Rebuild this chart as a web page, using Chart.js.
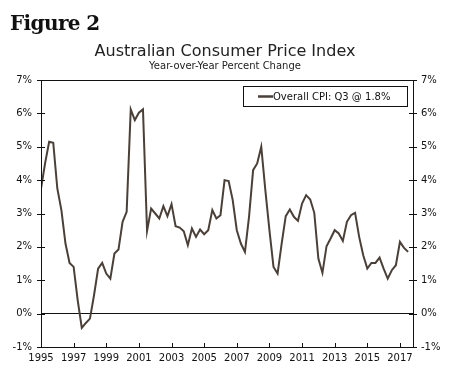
<!DOCTYPE html>
<html>
<head>
<meta charset="utf-8">
<script src="https://cdn.jsdelivr.net/npm/chart.js@4/dist/chart.umd.min.js"></script>
<style>
  body { margin: 0; background: #fff; }
  #wrap { position: relative; width: 450px; height: 368px; }
  #fig {
    position: absolute; left: 10px; top: 13px;
    font: bold 20px "DejaVu Serif", serif; line-height: 20px;
    letter-spacing: -0.6px; color: #111;
  }
  canvas { display: block; }
</style>
</head>
<body>
<div id="wrap">
  <div id="fig">Figure 2</div>
  <canvas id="cpiChart" width="450" height="368"></canvas>
</div>
<script>
// quarterly, 1995 Q1 .. 2017 Q3
const startYear = 1995;
const cpiYoY = [
  3.75, 4.5, 5.15, 5.12,   3.75, 3.1, 2.1, 1.52,    1.4, 0.4, -0.43, -0.28,
  -0.15, 0.55, 1.35, 1.52, 1.2, 1.05, 1.8, 1.92,    2.75, 3.05, 6.12, 5.8,
  6.02, 6.12, 2.48, 3.15,  3.0, 2.85, 3.22, 2.92,   3.28, 2.62, 2.58, 2.47,
  2.05, 2.55, 2.3, 2.52,   2.38, 2.5, 3.1, 2.85,    2.95, 4.0, 3.97, 3.4,
  2.5, 2.1, 1.85, 2.9,     4.3, 4.5, 5.0, 3.7,      2.5, 1.4, 1.2, 2.1,
  2.92, 3.12, 2.9, 2.78,   3.3, 3.55, 3.42, 3.02,   1.65, 1.22, 2.02, 2.25,
  2.5, 2.4, 2.18, 2.75,    2.95, 3.02, 2.3, 1.75,   1.35, 1.52, 1.52, 1.68,
  1.35, 1.05, 1.3, 1.45,   2.15, 1.97, 1.85
];
const yearTicks = [1995, 1997, 1999, 2001, 2003, 2005, 2007, 2009, 2011, 2013, 2015, 2017];
const pctTicks = [-1, 0, 1, 2, 3, 4, 5, 6, 7];
const seriesLabel = "Overall CPI: Q3 @ 1.8%";

const points = cpiYoY.map((v, i) => ({ x: startYear + i / 4, y: v }));
const lineColor = "#4a4038";
const axisFont = { family: "DejaVu Sans", size: 10 };

// box, ticks and legend drawn on top of the chart area
const frame = {
  id: "frame",
  afterDraw(chart) {
    const { ctx, chartArea: a, scales } = chart;
    ctx.save();
    ctx.strokeStyle = "#111";
    ctx.lineWidth = 1;
    ctx.strokeRect(Math.round(a.left) + 0.5, Math.round(a.top) + 0.5,
      Math.round(a.right - a.left), Math.round(a.bottom - a.top));

    ctx.beginPath();
    pctTicks.forEach(v => {
      const y = Math.round(scales.y.getPixelForValue(v)) + 0.5;
      ctx.moveTo(a.left - 4, y); ctx.lineTo(a.left + 4, y);
      ctx.moveTo(a.right - 4, y); ctx.lineTo(a.right + 4, y);
    });
    yearTicks.forEach(v => {
      const x = Math.round(scales.x.getPixelForValue(v)) + 0.5;
      ctx.moveTo(x, a.bottom - 4); ctx.lineTo(x, a.bottom + 1);
    });
    ctx.stroke();

    // legend
    const lx = 243.5, ly = 86.5, lw = 164, lh = 20;
    ctx.fillStyle = "#fff";
    ctx.fillRect(lx, ly, lw, lh);
    ctx.strokeRect(lx, ly, lw, lh);
    ctx.strokeStyle = lineColor;
    ctx.lineWidth = 2.5;
    ctx.beginPath();
    ctx.moveTo(258, 96.5); ctx.lineTo(273, 96.5);
    ctx.stroke();
    ctx.fillStyle = "#111";
    ctx.font = "10px 'DejaVu Sans'";
    ctx.textBaseline = "middle";
    ctx.fillText(chart.data.datasets[0].label, 273, 97);
    ctx.restore();
  }
};

new Chart(document.getElementById("cpiChart"), {
  type: "line",
  data: {
    datasets: [{
      label: seriesLabel,
      data: points,
      borderColor: lineColor,
      borderWidth: 2,
      pointRadius: 0,
      tension: 0
    }]
  },
  options: {
    responsive: false,
    animation: false,
    layout: { padding: 0 },
    plugins: {
      legend: { display: false },
      tooltip: { enabled: false },
      title: {
        display: true,
        text: "Australian Consumer Price Index",
        color: "#222",
        font: { family: "DejaVu Sans", size: 16, weight: "normal", lineHeight: 1 },
        padding: { top: 44, bottom: 0 }
      },
      subtitle: {
        display: true,
        text: "Year-over-Year Percent Change",
        color: "#222",
        font: { family: "DejaVu Sans", size: 10, lineHeight: 1 },
        padding: { top: 1.3, bottom: 8.7 }
      }
    },
    scales: {
      x: {
        type: "linear",
        min: 1995,
        max: 2017.8,
        afterBuildTicks: axis => { axis.ticks = yearTicks.map(v => ({ value: v })); },
        afterFit: s => { s.height = 21; },
        grid: { display: false, drawTicks: false },
        border: { display: false },
        ticks: {
          color: "#111", font: axisFont, padding: 5,
          autoSkip: false, maxRotation: 0,
          callback: v => String(v)
        }
      },
      y: {
        position: "left",
        min: -1,
        max: 7,
        afterBuildTicks: axis => { axis.ticks = pctTicks.map(v => ({ value: v })); },
        afterFit: s => { s.width = 41; },
        grid: {
          drawTicks: false,
          color: c => (c.tick && c.tick.value === 0 ? "#111" : "rgba(0,0,0,0)")
        },
        border: { display: false },
        ticks: { color: "#111", font: axisFont, padding: 9, callback: v => v + "%" }
      },
      y2: {
        position: "right",
        min: -1,
        max: 7,
        afterBuildTicks: axis => { axis.ticks = pctTicks.map(v => ({ value: v })); },
        afterFit: s => { s.width = 37; },
        grid: { display: false, drawTicks: false },
        border: { display: false },
        ticks: { color: "#111", font: axisFont, padding: 8, callback: v => v + "%" }
      }
    }
  },
  plugins: [frame]
});
</script>
</body>
</html>
